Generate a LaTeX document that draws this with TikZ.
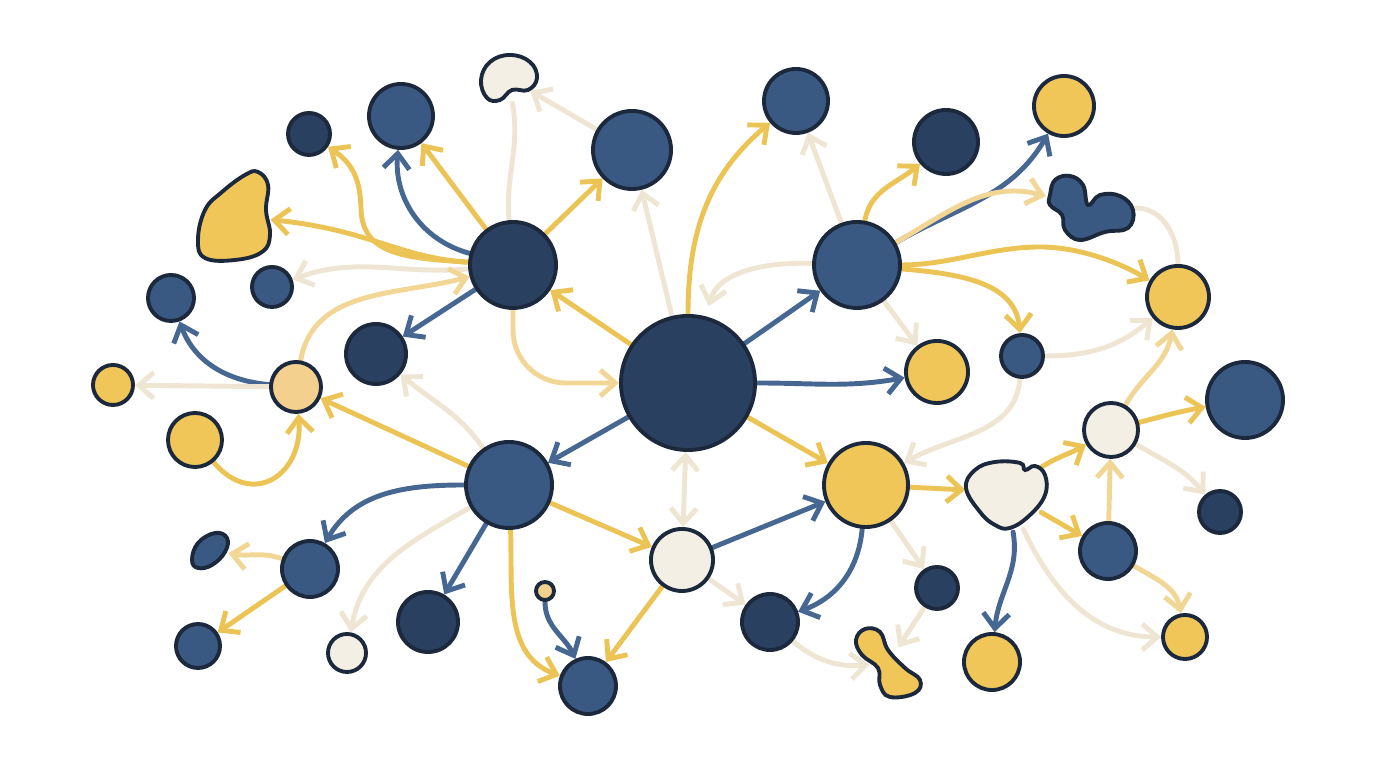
\documentclass[tikz,border=0pt]{standalone}
\usetikzlibrary{arrows.meta, positioning, backgrounds}
\definecolor{outline}{RGB}{28,40,60}
\definecolor{navyfill}{RGB}{41,64,97}
\definecolor{bluefill}{RGB}{58,89,130}
\definecolor{yellowfill}{RGB}{240,198,88}
\definecolor{creamfill}{RGB}{244,239,228}
\definecolor{peachfill}{RGB}{244,208,142}
\definecolor{linkyellow}{RGB}{236,196,86}
\definecolor{linkpale}{RGB}{241,214,150}
\definecolor{linkcream}{RGB}{238,229,210}
\definecolor{linkblue}{RGB}{70,103,146}
\tikzset{%
	every dot/.style={
		circle,
		draw=outline,
		line width=1.1pt,
		inner sep=0pt
	},
	navy dot/.style={every dot, fill=navyfill},
	blue dot/.style={every dot, fill=bluefill},
	yellow dot/.style={every dot, fill=yellowfill},
	cream dot/.style={every dot, fill=creamfill},
	peach dot/.style={every dot, fill=peachfill},
	blob/.style={draw=outline, line width=1.1pt},
	blob anchor/.style={circle, draw=none, inner sep=0pt},
	link/.style={
		line width=1.4pt,
		line cap=round,
		-{Straight Barb[length=1.5mm,width=2.6mm]}
	},
	yellow link/.style={link, draw=linkyellow},
	pale link/.style={link, draw=linkpale},
	cream link/.style={link, draw=linkcream},
	blue link/.style={link, draw=linkblue},
	bare link/.style={line width=1.4pt, line cap=round, draw=linkcream},
}
\begin{document}
\begin{tikzpicture}[x=0.01cm, y=0.01cm]
	\useasboundingbox (0,0) rectangle (1376,768);

	% Hubs
	\node[navy dot, minimum size=1.34cm] (core) at (688,385) {};
	\node[navy dot, minimum size=0.86cm] (hubnw) at (513,503) {};
	\node[blue dot, minimum size=0.86cm] (hubsw) at (509,283) {};
	\node[blue dot, minimum size=0.86cm] (hubne) at (857,503) {};
	\node[yellow dot, minimum size=0.84cm] (hubse) at (866,283) {};

	% Top row
	\node[blue dot, minimum size=0.78cm] (t1) at (632,618) {};
	\node[blue dot, minimum size=0.64cm] (t2) at (796,667) {};
	\node[navy dot, minimum size=0.64cm] (t3) at (946,626) {};
	\node[yellow dot, minimum size=0.60cm] (t4) at (1064,662) {};

	% Left side
	\node[blue dot, minimum size=0.64cm] (n1) at (401,652) {};
	\node[navy dot, minimum size=0.42cm] (n2) at (309,634) {};
	\node[blue dot, minimum size=0.40cm] (n3) at (272,481) {};
	\node[blue dot, minimum size=0.46cm] (n4) at (171,470) {};
	\node[navy dot, minimum size=0.60cm] (n5) at (376,414) {};
	\node[peach dot, minimum size=0.50cm] (peach) at (296,381) {};
	\node[yellow dot, minimum size=0.40cm] (y1) at (113,383) {};
	\node[yellow dot, minimum size=0.54cm] (y2) at (195,328) {};

	% Bottom left
	\node[blue dot, minimum size=0.56cm] (n6) at (310,199) {};
	\node[blue dot, minimum size=0.44cm] (n7) at (198,122) {};
	\node[cream dot, minimum size=0.38cm] (cs) at (347,115) {};
	\node[navy dot, minimum size=0.60cm] (n8) at (428,146) {};
	\node[peach dot, minimum size=0.18cm] (tp) at (545,177) {};
	\node[blue dot, minimum size=0.56cm] (n9) at (588,82) {};
	\node[cream dot, minimum size=0.62cm] (cm) at (682,208) {};
	\node[navy dot, minimum size=0.56cm] (n10) at (770,146) {};
	\node[navy dot, minimum size=0.42cm] (n11) at (937,180) {};

	% Right side
	\node[yellow dot, minimum size=0.56cm] (y3) at (992,106) {};
	\node[blue dot, minimum size=0.56cm] (n12) at (1108,217) {};
	\node[yellow dot, minimum size=0.44cm] (y4) at (1185,131) {};
	\node[navy dot, minimum size=0.42cm] (n13) at (1220,256) {};
	\node[cream dot, minimum size=0.54cm] (cr2) at (1111,338) {};
	\node[blue dot, minimum size=0.76cm] (n14) at (1245,368) {};
	\node[yellow dot, minimum size=0.62cm] (y5) at (1178,471) {};
	\node[blue dot, minimum size=0.42cm] (n15) at (1022,412) {};
	\node[yellow dot, minimum size=0.62cm] (y6) at (937,396) {};

	% Blobs
	\draw[blob, fill=creamfill] plot[smooth cycle, tension=0.7] coordinates {(481,688) (490,706) (510,713) (530,706) (537,690) (528,678) (512,678) (500,668) (487,670)};
	\node[blob anchor, minimum size=0.50cm] (bc1) at (508,690) {};
	\draw[blob, fill=yellowfill] plot[smooth cycle, tension=0.7] coordinates {(258,596) (268,583) (266,558) (270,533) (262,516) (235,508) (205,510) (198,528) (205,558) (222,576) (245,593)};
	\node[blob anchor, minimum size=0.70cm] (by1) at (235,552) {};
	\draw[blob, fill=bluefill] plot[smooth cycle, tension=0.7] coordinates {(1050,573) (1055,588) (1070,592) (1083,583) (1088,563) (1100,573) (1120,572) (1133,558) (1128,540) (1105,536) (1080,528) (1065,538) (1062,553) (1050,563)};
	\node[blob anchor, minimum size=0.90cm] (bd1) at (1090,560) {};
	\draw[blob, fill=bluefill] plot[smooth cycle, tension=0.7] coordinates {(192,208) (198,225) (215,235) (227,230) (225,216) (212,203) (198,200)};
	\node[blob anchor, minimum size=0.36cm] (bd2) at (210,218) {};
	\draw[blob, fill=creamfill] plot[smooth cycle, tension=0.7] coordinates {(966,280) (975,298) (995,306) (1020,305) (1025,298) (1035,302) (1045,293) (1045,273) (1030,253) (1010,240) (995,243) (980,256)};
	\node[blob anchor, minimum size=0.80cm] (bc2) at (1006,276) {};
	\draw[blob, fill=yellowfill] plot[smooth cycle, tension=0.7] coordinates {(856,128) (865,139) (880,136) (888,118) (905,100) (920,88) (915,75) (890,71) (880,83) (878,100) (862,113)};
	\node[blob anchor, minimum size=0.36cm] (by2) at (888,105) {};

	\begin{scope}[on background layer]
		% Upper left hub
		\draw[blue link] (hubnw) to[out=165,in=-95] (n1);
		\draw[yellow link] (hubnw) -- (n1);
		\draw[yellow link] (hubnw) -- (t1);
		\draw[bare link] (hubnw) to[out=95,in=-80] (bc1);
		\draw[cream link] (t1) -- (bc1);
		\draw[yellow link] (hubnw) .. controls (400,510) and (362,515) .. (361,560) .. controls (360,590) and (352,605) .. (n2);
		\draw[yellow link] (hubnw) .. controls (400,510) and (370,538) .. (by1);
		\draw[cream link] (hubnw) to[out=185,in=20] (n3);
		\draw[pale link] (peach) to[out=80,in=195] (hubnw);
		\draw[blue link] (hubnw) -- (n5);
		\draw[pale link, rounded corners=15] (hubnw.south) |- (core.west);

		% Core
		\draw[yellow link] (core) -- (hubnw);
		\draw[cream link] (core) -- (t1);
		\draw[yellow link] (core) to[out=90,in=-140] (t2);
		\draw[blue link] (core) -- (hubne);
		\draw[blue link] (core) to[out=0,in=190] (y6);
		\draw[yellow link] (core) -- (hubse);
		\draw[blue link] (core) -- (hubsw);
		\draw[cream link, {Straight Barb[length=1.5mm,width=2.6mm]}-{Straight Barb[length=1.5mm,width=2.6mm]}] (core) -- (cm);

		% Upper right hub
		\draw[cream link, shorten >=3pt] (hubne) to[out=178,in=75] (core);
		\draw[cream link] (hubne) -- (t2);
		\draw[yellow link] (hubne) to[out=80,in=-140] (t3);
		\draw[blue link] (hubne) to[out=30,in=-120] (t4);
		\draw[pale link] (hubne) to[out=30,in=165] (bd1);
		\draw[yellow link] (hubne) .. controls (950,503) and (990,521) .. (1040,521) .. controls (1080,521) and (1120,505) .. (y5);
		\draw[yellow link] (hubne) to[out=-5,in=95] (n15);
		\draw[cream link] (hubne) -- (y6);
		\draw[bare link] (bd1) to[out=0,in=90] (y5);
		\draw[cream link] (n15) to[out=0,in=-140] (y5);
		\draw[pale link] (cr2) to[out=60,in=-100] (y5);
		\draw[cream link] (n15) to[out=-95,in=30] (hubse);

		% Lower right hub
		\draw[yellow link] (hubse) -- (bc2);
		\draw[blue link] (hubse) to[out=-95,in=20] (n10);
		\draw[cream link] (hubse) -- (n11);
		\draw[blue link] (cm) -- (hubse);
		\draw[yellow link] (bc2) to[out=35,in=-150] (cr2);
		\draw[yellow link] (bc2) -- (n12);
		\draw[blue link] (bc2) to[out=-80,in=85] (y3);
		\draw[cream link] (bc2) to[out=-65,in=180] (y4);
		\draw[yellow link] (cr2) to[out=15,in=190] (n14);
		\draw[cream link] (cr2) to[out=-30,in=130] (n13);
		\draw[pale link] (n12) -- (cr2);
		\draw[pale link] (n12) to[out=-30,in=100] (y4);

		% Lower left hub
		\draw[yellow link] (hubsw) -- (peach);
		\draw[cream link] (hubsw) to[out=125,in=-40] (n5);
		\draw[blue link] (hubsw) to[out=180,in=60] (n6);
		\draw[cream link] (hubsw) to[out=210,in=80] (cs);
		\draw[blue link] (hubsw) -- (n8);
		\draw[yellow link] (hubsw) to[out=-88,in=160] (n9);
		\draw[yellow link] (hubsw) -- (cm);

		% Small links
		\draw[blue link] (peach) to[out=175,in=-70] (n4);
		\draw[cream link] (peach) -- (y1);
		\draw[yellow link] (y2) to[out=-50,in=-85,looseness=1.6] (peach);
		\draw[pale link] (n6) to[out=160,in=-10] (bd2);
		\draw[yellow link] (n6) -- (n7);
		\draw[blue link] (tp) to[out=-90,in=115] (n9);
		\draw[yellow link] (cm) -- (n9);
		\draw[cream link] (cm) -- (n10);
		\draw[cream link] (n10) to[out=-40,in=185] (by2);
		\draw[cream link] (n11) -- (by2);
	\end{scope}
\end{tikzpicture}
\end{document}
